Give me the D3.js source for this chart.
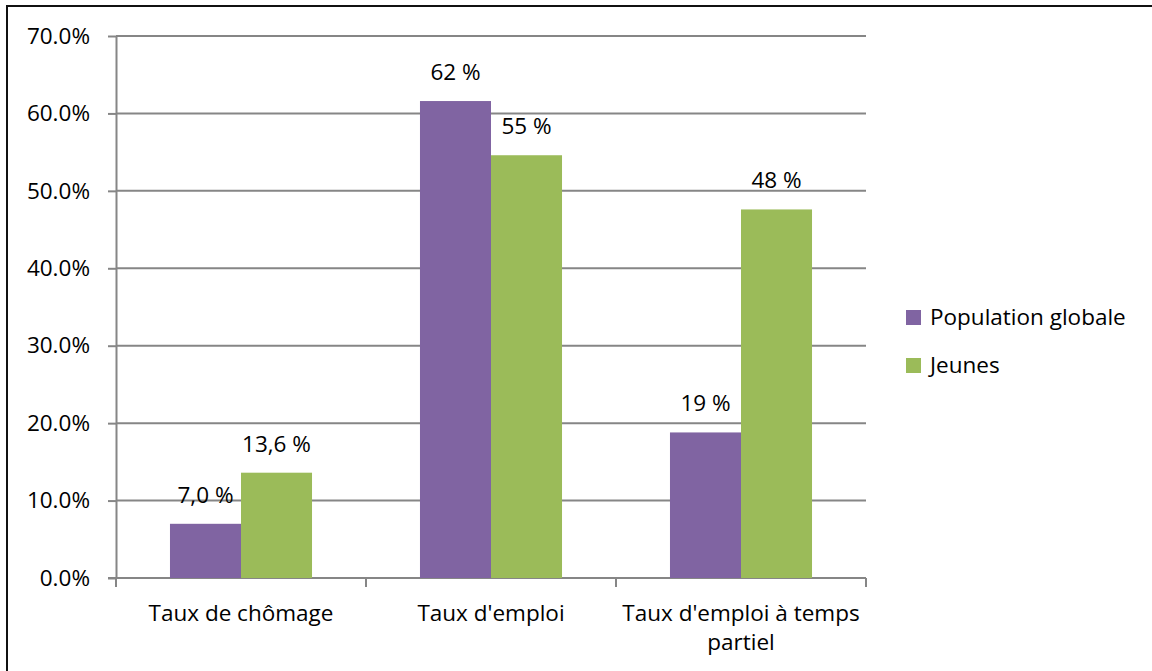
<!DOCTYPE html>
<meta charset="utf-8">
<style>
body { margin: 0; background: #fff; }
svg { display: block; font-family: "Open Sans", "Lato", sans-serif; }
.grid line { stroke: #868686; stroke-width: 2px; }
.axis path, .axis line { stroke: #868686; stroke-width: 2px; }
.axis text { font-size: 22.5px; fill: #000; font-family: "Open Sans", sans-serif; }
.lbl { font-size: 22.5px; fill: #000; }
</style>
<body>
<div id="chart"></div>
<script src="https://cdn.jsdelivr.net/npm/d3@7"></script>
<script>

var categories = ["Taux de chômage", "Taux d'emploi", "Taux d'emploi à temps partiel"];
var series = ["Population globale", "Jeunes"];
var globale = [7.0, 61.6, 18.8];
var jeunes = [13.6, 54.6, 47.6];
var labelsGlobale = ["7,0 %", "62 %", "19 %"];
var labelsJeunes = ["13,6 %", "55 %", "48 %"];
var yTicks = [0, 10, 20, 30, 40, 50, 60, 70];
var colors = ["#8064A2", "#9BBB59"];

var width = 1152, height = 671;
var plotLeft = 116, plotRight = 866, plotTop = 36, plotBottom = 578;

var svg = d3.select("#chart").append("svg")
	.attr("width", width)
	.attr("height", height);

// frame (only top/left visible in the original crop)
svg.append("rect")
	.attr("x", 7).attr("y", 6)
	.attr("width", 1160).attr("height", 700)
	.attr("fill", "none")
	.attr("stroke", "#111")
	.attr("stroke-width", 2);

var y = d3.scaleLinear().domain([0, 70]).range([plotBottom, plotTop]);
var x0 = d3.scaleBand().domain(categories).range([plotLeft, plotRight]);
var x1 = d3.scaleBand().domain(series).range([0, x0.bandwidth()]).paddingOuter(0.76);

// gridlines
svg.append("g").attr("class", "grid")
	.selectAll("line")
	.data(yTicks.slice(1))
	.enter().append("line")
	.attr("x1", plotLeft).attr("x2", plotRight)
	.attr("y1", function(d) { return y(d); })
	.attr("y2", function(d) { return y(d); });

// y axis
svg.append("g").attr("class", "axis")
	.attr("transform", "translate(" + plotLeft + ",0)")
	.call(d3.axisLeft(y).tickValues(yTicks).tickSize(8).tickSizeOuter(0).tickPadding(18)
		.tickFormat(function(d) { return d.toFixed(1) + "%"; }));

// x axis
var xAxis = svg.append("g").attr("class", "axis")
	.attr("transform", "translate(0," + plotBottom + ")");
xAxis.append("line")
	.attr("x1", plotLeft - 8).attr("x2", plotRight)
	.attr("y1", 0).attr("y2", 0);
xAxis.selectAll(".tk")
	.data([plotLeft].concat(categories.map(function(c) { return x0(c) + x0.bandwidth(); })))
	.enter().append("line")
	.attr("class", "tk")
	.attr("x1", function(d) { return d; }).attr("x2", function(d) { return d; })
	.attr("y1", 0).attr("y2", 9);

var rows = categories.map(function(c, i) {
	return { cat: c, vals: [globale[i], jeunes[i]], labels: [labelsGlobale[i], labelsJeunes[i]] };
});

var groups = svg.append("g").selectAll("g")
	.data(rows)
	.enter().append("g")
	.attr("transform", function(d) { return "translate(" + x0(d.cat) + ",0)"; });

groups.selectAll("rect")
	.data(function(d) { return d.vals.map(function(v, j) { return { s: series[j], v: v, j: j }; }); })
	.enter().append("rect")
	.attr("x", function(d) { return x1(d.s); })
	.attr("width", x1.bandwidth())
	.attr("y", function(d) { return y(d.v); })
	.attr("height", function(d) { return plotBottom - y(d.v); })
	.attr("fill", function(d) { return colors[d.j]; });

groups.selectAll("text")
	.data(function(d) { return d.vals.map(function(v, j) { return { s: series[j], v: v, t: d.labels[j] }; }); })
	.enter().append("text")
	.attr("class", "lbl")
	.attr("text-anchor", "middle")
	.attr("x", function(d) { return x1(d.s) + x1.bandwidth() / 2; })
	.attr("y", function(d) { return y(d.v) - 21; })
	.text(function(d) { return d.t; });

// category labels (wrapped like the original)
var catLines = [["Taux de chômage"], ["Taux d'emploi"], ["Taux d'emploi à temps", "partiel"]];
categories.forEach(function(c, i) {
	var t = svg.append("text")
		.attr("class", "lbl")
		.attr("text-anchor", "middle")
		.attr("x", x0(c) + x0.bandwidth() / 2)
		.attr("y", 621);
	catLines[i].forEach(function(line, k) {
		t.append("tspan")
			.attr("x", x0(c) + x0.bandwidth() / 2)
			.attr("dy", k === 0 ? 0 : 29)
			.text(line);
	});
});

// legend
var legend = svg.append("g").attr("transform", "translate(906,310)");
series.forEach(function(s, i) {
	var g = legend.append("g").attr("transform", "translate(0," + (i * 48) + ")");
	g.append("rect").attr("width", 15).attr("height", 15).attr("fill", colors[i]);
	g.append("text").attr("class", "lbl").attr("x", 24).attr("y", 15).text(s);
});

</script>
</body>
</html>
